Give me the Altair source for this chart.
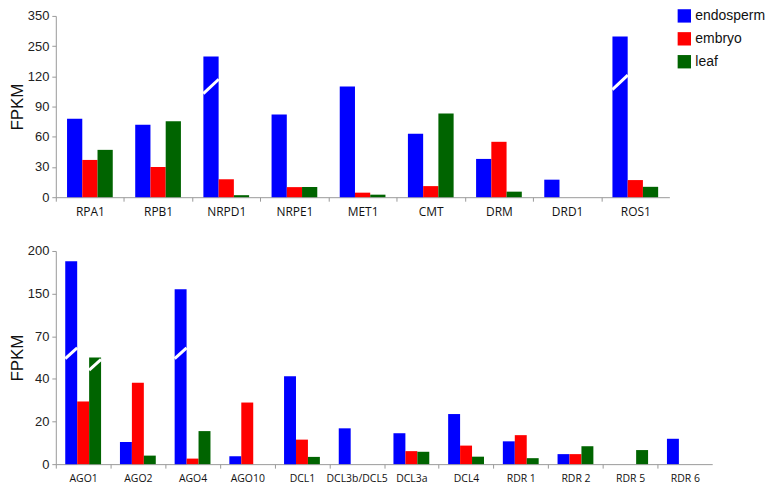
import altair as alt
import pandas as pd

tissues = ["endosperm", "embryo", "leaf"]
colors = ["#0000FF", "#FF0000", "#006400"]

# top panel
top_genes = ["RPA1", "RPB1", "NRPD1", "NRPE1", "MET1", "CMT", "DRM", "DRD1", "ROS1"]
top_endosperm = [78, 72, 205, 82, 110, 63, 38, 17.4, 282]
top_embryo = [37, 30, 17.8, 10, 4.5, 11, 55, 0, 17]
top_leaf = [47, 75.5, 2, 10, 2.5, 83, 5.5, 0, 10.3]
top_ticks = [0, 30, 60, 90, 120, 250, 350]
top_break_gene = ["NRPD1", "ROS1"]
top_break_tissue = ["endosperm", "endosperm"]
top_break_value = [110, 114]

# bottom panel
bot_genes = ["AGO1", "AGO2", "AGO4", "AGO10", "DCL1", "DCL3b/DCL5", "DCL3a", "DCL4",
             "RDR 1", "RDR 2", "RDR 5", "RDR 6"]
bot_endosperm = [188, 10.4, 155, 3.7, 41.9, 16.8, 14.5, 23.5, 10.7, 4.7, 0, 11.9]
bot_embryo = [29.4, 38.2, 2.6, 28.9, 11.5, 0, 6.1, 8.7, 13.6, 4.7, 0, 0]
bot_leaf = [55, 4, 15.5, 0, 3.4, 0, 5.8, 3.5, 2.8, 8.4, 6.6, 0]
bot_ticks = [0, 20, 40, 70, 150, 200]
bot_break_gene = ["AGO1", "AGO1", "AGO4"]
bot_break_tissue = ["endosperm", "leaf", "endosperm"]
bot_break_value = [58, 50, 58]


def long_df(genes, e, m, l):
    rows = []
    for t, vals in zip(tissues, [e, m, l]):
        for g, v in zip(genes, vals):
            rows.append({"gene": g, "tissue": t, "value": v})
    return pd.DataFrame(rows)


def panel(genes, e, m, l, ticks, bg, bt, bv, width, height, xfont, xoff_pad,
          slash, slash_size, show_legend):
    df = long_df(genes, e, m, l)
    bdf = pd.DataFrame({"gene": bg, "tissue": bt, "value": bv})
    n = len(ticks) - 1
    yrange = [height * (1 - i / n) for i in range(n + 1)]
    step = width / len(genes)
    x_enc = alt.X("gene:N", sort=genes, title=None,
                  scale=alt.Scale(paddingInner=0, paddingOuter=0),
                  axis=alt.Axis(labelAngle=0, labelFont="Open Sans", labelFontSize=xfont,
                                labelColor="#111", tickOffset=-step / 2,
                                labelOffset=step / 2, tickSize=4, labelPadding=5,
                                domainColor="#999", tickColor="#999"))
    xo_enc = alt.XOffset("tissue:N", sort=tissues,
                         scale=alt.Scale(domain=tissues, paddingInner=0,
                                         paddingOuter=xoff_pad))
    y_enc = alt.Y("value:Q", title="FPKM",
                  scale=alt.Scale(domain=ticks, range=yrange),
                  axis=alt.Axis(values=ticks, tickCount=20, labelOverlap=False,
                                labelFont="Liberation Sans",
                                labelFontSize=13, labelColor="#222",
                                titleFont="Liberation Sans", titleFontSize=17,
                                titleFontWeight="normal", titleColor="#111",
                                titlePadding=1, tickSize=4, labelPadding=3,
                                domainColor="#999", tickColor="#999", grid=False))
    if show_legend:
        legend = alt.Legend(title=None, orient="none", legendX=624, legendY=-7,
                            symbolType="square", symbolSize=180,
                            symbolStrokeWidth=0, labelFont="Liberation Sans",
                            labelFontSize=14, labelColor="#111", labelOffset=4,
                            rowPadding=9, padding=0)
    else:
        legend = None
    c_enc = alt.Color("tissue:N", sort=tissues,
                      scale=alt.Scale(domain=tissues, range=colors), legend=legend)
    bars = alt.Chart(df).mark_bar().encode(x=x_enc, xOffset=xo_enc, y=y_enc, color=c_enc)
    breaks = alt.Chart(bdf).mark_point(shape=slash, filled=False, stroke="white",
                                       strokeWidth=3, opacity=1,
                                       size=slash_size).encode(
        x=alt.X("gene:N", sort=genes), xOffset=alt.XOffset("tissue:N", sort=tissues),
        y=alt.Y("value:Q"))
    return alt.layer(bars, breaks).properties(width=width, height=height)


top = panel(top_genes, top_endosperm, top_embryo, top_leaf, top_ticks,
            top_break_gene, top_break_tissue, top_break_value,
            616, 182, 12, 0.737, "M-1,0.93L1,-0.93", 240, True)
bottom = panel(bot_genes, bot_endosperm, bot_embryo, bot_leaf, bot_ticks,
               bot_break_gene, bot_break_tissue, bot_break_value,
               659, 214, 10.5, 0.79, "M-1,0.9L1,-0.9", 144, False)

chart = alt.vconcat(top, bottom, spacing=28).resolve_scale(
    color="independent", x="independent", y="independent", xOffset="independent"
).properties(padding={"left": 0, "top": 0, "right": 0, "bottom": 0}).configure_view(
    stroke=None)

chart.save("out.html", embed_options={"renderer": "svg", "actions": False})
